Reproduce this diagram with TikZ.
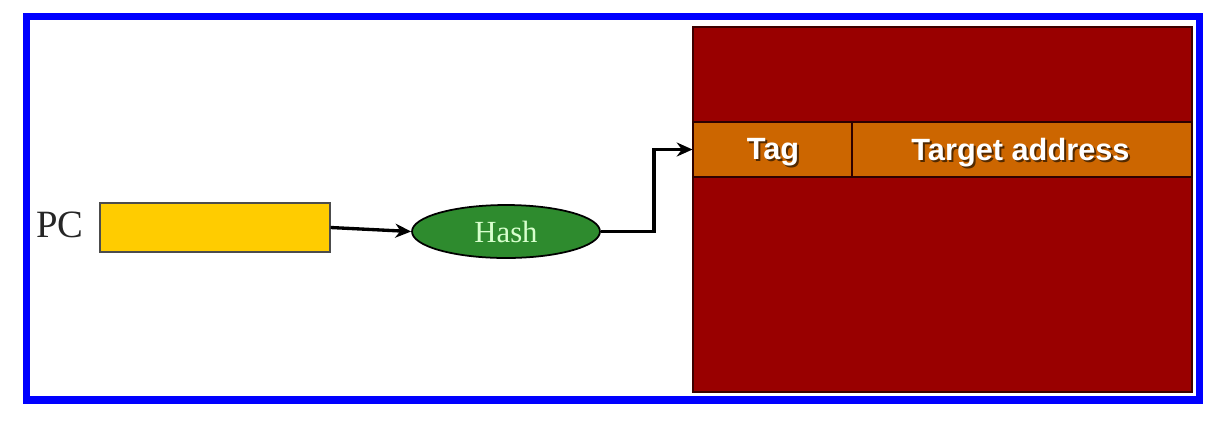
\documentclass[tikz,border=0pt]{standalone}
\usepackage{fontspec}
\setmainfont{Liberation Serif}
\newfontfamily\cellfont{Liberation Sans}
\usetikzlibrary{shapes.geometric,arrows.meta}

\definecolor{frameblue}{RGB}{0,0,255}
\definecolor{tablered}{RGB}{153,0,0}
\definecolor{rowbrown}{RGB}{204,102,0}
\definecolor{regyellow}{RGB}{255,204,0}
\definecolor{hashgreen}{RGB}{46,139,46}
\definecolor{hashtext}{RGB}{215,255,205}

\begin{document}
\begin{tikzpicture}[x=0.02cm,y=-0.02cm,
  frame/.style={draw=frameblue,line width=4pt},
  link/.style={draw=black,line width=1.9pt,-{Stealth[length=9pt,width=8pt]}},
  cell/.style={draw=black!70!tablered,fill=rowbrown,line width=0.6pt,inner sep=0pt,minimum height=1.1cm},
  celltext/.style={text=white,font=\cellfont\bfseries\fontsize{17.5}{19}\selectfont},
  shade/.style={text=black!60!rowbrown,font=\cellfont\bfseries\fontsize{17.5}{19}\selectfont}]
\useasboundingbox (0,0) rectangle (1223,424);
\fill[white] (0,0) rectangle (1223,424);
\draw[frame] (26.5,16.5) rectangle (1199,400);

% branch target buffer
\node[draw=black!60!tablered,fill=tablered,line width=1pt,minimum width=9.98cm,minimum height=7.3cm,inner sep=0pt] (btb) at (942.5,209.5) {};
\node[cell,minimum width=3.18cm] (tagcell) at (772.5,149.5) {};
\node[cell,minimum width=6.8cm] (targetcell) at (1022,149.5) {};
\node[shade] at (775,154.5) {Tag};
\node[celltext] (tag) at (773,152.5) {Tag};
\node[shade] at (1022.5,154.5) {Target address};
\node[celltext] (target) at (1020.5,152.5) {Target address};

% program counter and hash
\node[font=\fontsize{22}{24}\selectfont,text=black!85] (pclabel) at (60,225) {PC};
\node[draw=black!70,fill=regyellow,line width=0.8pt,minimum width=4.6cm,minimum height=0.98cm,inner sep=0pt] (pc) at (215,227.5) {};
\node[ellipse,draw=black,fill=hashgreen,line width=1pt,minimum width=3.76cm,minimum height=1.06cm,inner sep=0pt,
  text=hashtext,font=\fontsize{17.5}{19}\selectfont] (hash) at (506,231.5) {Hash};

\draw[link] (pc.east) -- (hash.west);
\draw[link] (hash.east) -- ++(53,0) |- (tagcell.west);
\end{tikzpicture}
\end{document}
